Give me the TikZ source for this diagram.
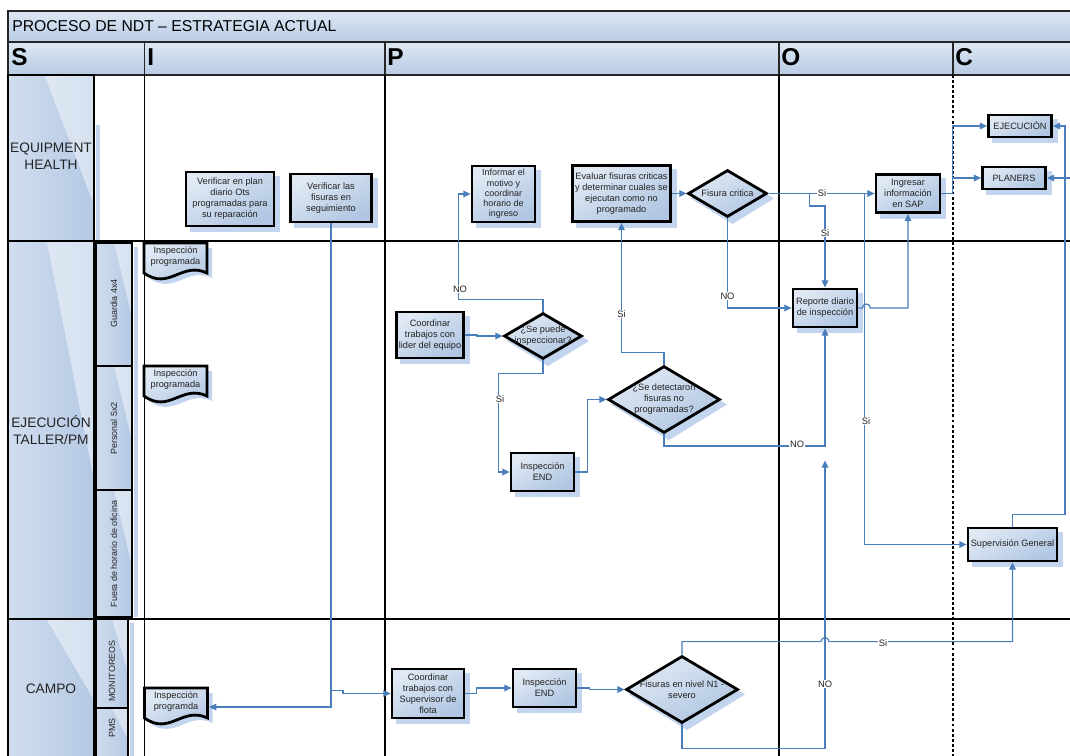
\documentclass[tikz,border=0pt]{standalone}
\usepackage{fontspec}
\setmainfont{Liberation Sans}
\usetikzlibrary{shapes.geometric,arrows.meta,calc}
\pgfdeclarelayer{lanes}
\pgfsetlayers{lanes,main}

\definecolor{connblue}{RGB}{74,126,187}
\definecolor{boxlight}{RGB}{224,233,244}
\definecolor{boxdark}{RGB}{176,198,226}
\definecolor{shadecol}{RGB}{194,212,238}
\definecolor{lanelight}{RGB}{208,221,238}
\definecolor{lanedark}{RGB}{181,201,228}
\definecolor{hdrlight}{RGB}{221,231,243}
\definecolor{hdrdark}{RGB}{184,204,229}
\definecolor{inktext}{RGB}{35,35,35}

% document symbol (63 x 27 body, wavy bottom) around a centre coordinate, moved by an offset
\newcommand\docoutline[2]{($(#1)+(-31.5,-13.5)+#2$) -- ($(#1)+(31.5,-13.5)+#2$) -- ($(#1)+(31.5,16.5)+#2$) .. controls ($(#1)+(6.3,4.5)+#2$) and ($(#1)+(-6.3,34.5)+#2$) .. ($(#1)+(-31.5,16.5)+#2$) -- cycle}

\begin{document}
\begin{tikzpicture}[x=0.75pt,y=-0.75pt,
  sz/.style 2 args={minimum width=#1*0.75pt, minimum height=#2*0.75pt},
  boxfont/.style={font=\fontsize{6.9}{8.2}\selectfont, text=inktext},
  proc/.style={rectangle, draw=black, line width=2.1pt, inner sep=1pt, align=center,
    top color=boxlight, bottom color=boxdark, shading angle=30, boxfont},
  dec/.style={diamond, draw=black, line width=2.1pt, inner sep=0pt,
    top color=boxlight, bottom color=boxdark, shading angle=30},
  dectext/.style={align=center, inner sep=0pt, boxfont},
  docnode/.style={rectangle, inner sep=0pt, align=center, boxfont},
  docshape/.style={draw=black, line width=2.1pt, top color=boxlight, bottom color=boxdark, shading angle=30},
  shadowfill/.style={fill=shadecol, draw=none},
  laneshade/.style={left color=lanelight, right color=lanedark},
  glass/.style={fill=white, fill opacity=0.45},
  laneborder/.style={draw=black, line width=2pt},
  laneline/.style={draw=black, line width=2.2pt},
  colline/.style={draw=black, line width=0.8pt},
  dotline/.style={draw=black, line width=2.2pt, dash pattern=on 2.2pt off 1.6pt},
  hdrcell/.style={draw=black!85, line width=1.1pt, top color=hdrlight, bottom color=hdrdark},
  hdrletter/.style={font=\fontsize{18.3}{20}\selectfont\bfseries, inner sep=0pt, anchor=west},
  lanetext/.style={font=\fontsize{10.3}{13}\selectfont, align=center, text=inktext},
  subtext/.style={font=\fontsize{6.7}{8}\selectfont, rotate=90, text=inktext},
  conn/.style={draw=connblue, line width=0.9pt, -{Triangle[length=5.5pt,width=5pt]}},
  lbl/.style={fill=white, inner sep=0.7pt, font=\fontsize{7}{8}\selectfont, text=inktext}]

\useasboundingbox (0,0) rectangle (1070,756);

\begin{pgfonlayer}{lanes}
  % title bar and S-I-P-O-C header row
  \draw[hdrcell, line width=0.8pt] (8,11) rectangle (1076,42);
  \draw[hdrcell] (8,42) rectangle (144.5,75);
  \draw[hdrcell] (144.5,42) rectangle (385,75);
  \draw[hdrcell] (385,42) rectangle (779,75);
  \draw[hdrcell] (779,42) rectangle (953,75);
  \draw[hdrcell] (953,42) rectangle (1076,75);

  % EQUIPMENT HEALTH label
  \path[laneshade] (8,75) rectangle (94,241);
  \path[glass] (45,76) -- (94,76) -- (94,205) -- cycle;
  \path[laneborder] (8,75) rectangle (94,241);

  % EJECUCION TALLER/PM label and its sub-lanes
  \path[laneshade] (8,241) rectangle (94,619);
  \path[glass] (47,242) -- (94,242) -- (94,480) -- cycle;
  \path[laneborder] (8,241) rectangle (94,619);
  \foreach \ya/\yb in {243/366, 366/490, 490/617}{
    \path[laneshade] (96,\ya) rectangle (132,\yb);
    \path[glass] (114,\ya) -- (132,\ya) -- (132,\ya+0.6*\yb-0.6*\ya) -- cycle;
    \path[laneborder] (96,\ya) rectangle (132,\yb);
  }

  % CAMPO label and its sub-lanes
  \path[laneshade] (8,619) rectangle (94,760);
  \path[glass] (47,620) -- (94,620) -- (94,700) -- cycle;
  \path[laneborder] (8,619) rectangle (94,760);
  \foreach \ya/\yb in {619/708, 708/760}{
    \path[laneshade] (96,\ya) rectangle (128,\yb);
    \path[glass] (112,\ya) -- (128,\ya) -- (128,\ya+0.6*\yb-0.6*\ya) -- cycle;
    \path[laneborder] (96,\ya) rectangle (128,\yb);
  }

  % lane separators and column lines
  \draw[laneline] (8,241) -- (1076,241);
  \draw[laneline] (8,619) -- (1076,619);
  \draw[colline] (144.5,75) -- (144.5,760);
  \draw[colline] (385,75) -- (385,760);
  \draw[colline] (779,75) -- (779,760);
  \draw[dotline] (953,75) -- (953,760);
\end{pgfonlayer}

% soft shadows beside the label columns
\path[shadowfill] (95.5,125) rectangle (99.5,240);
\path[shadowfill] (133.5,247) rectangle (137.5,617);
\path[shadowfill] (129.5,623) rectangle (133.5,760);

% header texts
\node[anchor=west, inner sep=0pt, font=\fontsize{11.8}{14}\selectfont] (title) at (12,26.5) {PROCESO DE NDT – ESTRATEGIA ACTUAL};
\node[hdrletter] (hS) at (11,57.5) {S};
\node[hdrletter] (hI) at (147,57.5) {I};
\node[hdrletter] (hP) at (387,57.5) {P};
\node[hdrletter] (hO) at (781,57.5) {O};
\node[hdrletter] (hC) at (955,57.5) {C};

% lane names
\node[lanetext] (lEH) at (51,156) {EQUIPMENT\\HEALTH};
\node[lanetext] (lEJ) at (51,430) {EJECUCIÓN\\TALLER/PM};
\node[lanetext] (lCA) at (51,689) {CAMPO};
\node[subtext] (sG) at (114,303.5) {Guardia 4x4};
\node[subtext] (sP) at (114,428.5) {Personal 5x2};
\node[subtext] (sF) at (114,554) {Fuera de horario de oficina};
\node[subtext] (sM) at (112,671) {MONITOREOS};
\node[subtext] (sPM) at (112,728) {PMS};

% offset shadows of the boxes (centre x, centre y, width, height)
\foreach \cx/\cy/\w/\h in {230/199/88/54, 331/198/81/48, 503.5/194/63/56, 621.5/193.5/98/56,
    908/193.5/64/38, 1020/126/63/22, 1014/178/63/22, 825/308/64/38, 430/335/67/46,
    542.5/472/63/38, 1012.5/544.5/89/33, 428/693.5/72/49, 544.5/688/63/38}{
  \path[shadowfill] ($(\cx,\cy)+(-\w/2+3.6,-\h/2+3.6)$) rectangle ($(\cx,\cy)+(\w/2+6.4,\h/2+6.4)$);
}
% offset shadows of the decisions
\foreach \cx/\cy/\w/\h in {727.5/193.5/79/47, 543/336/78/46, 664/399.5/112/67, 682/689.5/112/67}{
  \path[shadowfill] ($(\cx,\cy)+(5,-\h/2+3)$) -- ($(\cx,\cy)+(\w/2+7,5)$) -- ($(\cx,\cy)+(5,\h/2+7)$) -- ($(\cx,\cy)+(-\w/2+3,5)$) -- cycle;
}

% document symbols: shadow, then outline
\coordinate (d1c) at (175.5,256.5);
\coordinate (d2c) at (175.5,379.5);
\coordinate (d3c) at (176,701.5);
\foreach \d in {d1c,d2c,d3c}{
  \path[shadowfill] \docoutline{\d}{(5,5)};
  \path[docshape] \docoutline{\d}{(0,0)};
}

% process steps
\node[proc, sz={88}{54}] (vplan) at (230,199) {Verificar en plan\\diario Ots\\programadas para\\su reparación};
\node[proc, sz={81}{48}] (vfis) at (331,198) {Verificar las\\fisuras en\\seguimiento};
\node[proc, sz={63}{56}, font=\fontsize{6.7}{7.7}\selectfont] (info) at (503.5,194) {Informar el\\motivo y\\coordinar\\horario de\\ingreso};
\node[proc, sz={98}{56}] (eval) at (621.5,193.5) {Evaluar fisuras criticas\\y determinar cuales se\\ejecutan como no\\programado};
\node[dec, sz={79}{47}] (fc) at (727.5,193.5) {};
\node[dectext] (fct) at (fc.center) {Fisura critica};
\node[proc, sz={64}{38}] (sap) at (908,193.5) {Ingresar\\información\\en SAP};
\node[proc, sz={63}{22}] (ejec) at (1020,126) {EJECUCIÓN};
\node[proc, sz={63}{22}] (plan) at (1014,178) {PLANERS};
\node[proc, sz={64}{38}] (rep) at (825,308) {Reporte diario\\de inspección};
\node[proc, sz={67}{46}] (coordl) at (430,335) {Coordinar\\trabajos con\\lider del equipo};
\node[dec, sz={78}{46}] (puede) at (543,336) {};
\node[dectext] (puedet) at (puede.center) {¿Se puede\\inspeccionar?};
\node[dec, sz={112}{67}] (detect) at (664,399.5) {};
\node[dectext] (detectt) at (detect.center) {¿Se detectaron\\fisuras no\\programadas?};
\node[proc, sz={63}{38}] (end1) at (542.5,472) {Inspección\\END};
\node[proc, sz={89}{33}] (sup) at (1012.5,544.5) {Supervisión General};
\node[proc, sz={72}{49}] (coords) at (428,693.5) {Coordinar\\trabajos con\\Supervisor de\\flota};
\node[proc, sz={63}{38}] (end2) at (544.5,688) {Inspección\\END};
\node[dec, sz={112}{67}] (n1) at (682,689.5) {};
\node[dectext] (n1t) at (n1.center) {Fisuras en nivel N1 -\\severo};

% document texts
\node[docnode, sz={63}{27}] (doc1) at (d1c) {Inspección\\programada};
\node[docnode, sz={63}{27}] (doc2) at (d2c) {Inspección\\programada};
\node[docnode, sz={63}{27}] (doc3) at (d3c) {Inspección\\programda};

% connectors
\draw[conn] (vfis.south) |- ($(doc3.east)+(1.3,5.5)$);
\draw[conn] ($(vfis.south |- coords.west)+(0,-3)$) -- ++(12,0) -- ++(0,3) -- (coords.west);
\draw[conn] (coords.east) -- ++(11,0) |- (end2.west);
\draw[conn] (end2.east) -- ++(12,0) |- (n1.west);
\coordinate (siturn) at ($(n1.north)+(0,-13)$);
\draw[conn] (n1.north) -- (siturn) -- ($(siturn -| rep.south)+(-4,0)$) arc[start angle=180, end angle=360, radius=4] -| (sup.south);
\coordinate (noend) at ($(rep.south)+(0,132)$);
\draw[conn] (n1.south) -- ++(0,24) -| (noend);
\draw[conn] (detect.south) -- ++(0,11.5) -| (rep.south);
\draw[conn] (detect.north) -- ++(0,-12) -| (eval.south);
\draw[conn] (end1.east) -- ++(12,0) |- (detect.west);
\draw[conn] (puede.south) -- ++(0,13) -| ($(end1.west)+(-11,0)$) -- (end1.west);
\draw[conn] (puede.north) -- ++(0,-12) -| ($(info.west)+(-12,0)$) -- (info.west);
\draw[conn] (coordl.east) -- ++(12,0) |- (puede.west);
\draw[conn] (eval.east) -- (fc.west);
\draw[conn] (fc.east) -- (sap.west);
\coordinate (brA) at ($(fc.east)+(41,0)$);
\draw[conn] (brA) -- ++(0,12.5) -| (rep.north);
\draw[conn] (fc.south) |- (rep.west);
\draw[conn] (rep.east) -- ++(4,0) arc[start angle=180, end angle=360, radius=4] -| (sap.south);
\coordinate (brB) at ($(sap.west)+(-10,0)$);
\draw[conn] (brB) |- (sup.west);
\draw[conn] (sap.east) -- ++(11,0) |- (ejec.west);
\draw[conn] ($(sap.east)+(11,0)$) |- (plan.west);
\draw[conn] (sup.north) -- ++(0,-12) -| ($(ejec.east)+(12,0)$) -- (ejec.east);
\coordinate (redge) at ($(plan.east)+(26,0)$);
\draw[conn] (redge) -- (plan.east);

% branch labels
\node[lbl] (l1) at (460,289) {NO};
\node[lbl] (l2) at (500,399) {Si};
\node[lbl] (l3) at (621.5,314) {Si};
\node[lbl] (l4) at (727.5,296) {NO};
\node[lbl] (l5) at (822,193.5) {Si};
\node[lbl] (l6) at (825,233) {Si};
\node[lbl] (l7) at (797,444.5) {NO};
\node[lbl] (l8) at (866,421) {Si};
\node[lbl] (l9) at (883,643) {Si};
\node[lbl] (l10) at (825,684) {NO};
\end{tikzpicture}
\end{document}
